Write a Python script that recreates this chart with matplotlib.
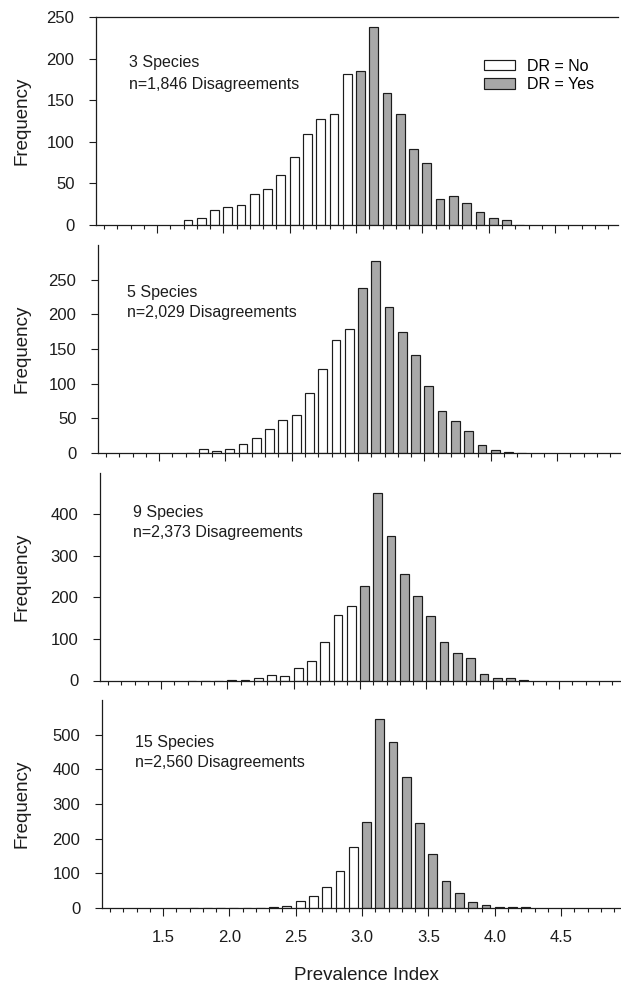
import matplotlib
matplotlib.use("Agg")
import matplotlib.pyplot as plt
from matplotlib.patches import Patch
from matplotlib.ticker import MultipleLocator, FormatStrFormatter

plt.rcParams['font.family'] = ['Liberation Sans', 'DejaVu Sans']

# bin start of each 0.1 wide prevalence-index class
bin_starts = [1.7, 1.8, 1.9, 2.0, 2.1, 2.2, 2.3, 2.4, 2.5, 2.6, 2.7, 2.8, 2.9,
              3.0, 3.1, 3.2, 3.3, 3.4, 3.5, 3.6, 3.7, 3.8, 3.9, 4.0, 4.1, 4.2]

freq_3sp = [6, 8, 18, 22, 24, 37, 43, 60, 82, 109, 128, 134, 181,
            185, 238, 159, 133, 91, 75, 31, 35, 26, 16, 9, 6, 0]
freq_5sp = [0, 6, 3, 6, 13, 22, 35, 47, 55, 87, 121, 163, 179,
            238, 277, 211, 175, 142, 96, 60, 46, 32, 12, 5, 2, 0]
freq_9sp = [0, 0, 0, 1, 2, 5, 14, 10, 30, 46, 92, 158, 179,
            228, 450, 347, 256, 203, 154, 92, 67, 53, 15, 6, 6, 2]
freq_15sp = [0, 0, 0, 0, 1, 1, 3, 5, 21, 36, 61, 106, 175,
             247, 545, 479, 377, 245, 156, 78, 42, 16, 9, 4, 2, 2]

labels = ['3 Species', '5 Species', '9 Species', '15 Species']
n_text = ['n=1,846 Disagreements', 'n=2,029 Disagreements',
          'n=2,373 Disagreements', 'n=2,560 Disagreements']
freqs = [freq_3sp, freq_5sp, freq_9sp, freq_15sp]
y_tops = [250, 300, 500, 600]
y_steps = [50, 50, 100, 100]
y_maxtick = [250, 250, 400, 500]
dr_cut = 3.0

W, H = 621, 984
fig = plt.figure(figsize=(W / 100, H / 100), dpi=100)

# panel geometry in pixels (left edge, bottom edge measured from top)
lefts = [96, 98, 100, 102]
bottoms = [225, 453, 680.5, 908]
ph = 208
xmin, xmax = 1.04, 4.97
px_per_unit = 132.7
pw = (xmax - xmin) * px_per_unit
txt_pos = [(129, 63, 85), (127, 292, 312), (133, 512, 532), (135, 743, 763)]

ink = '#1c1c1c'
grey = '#a8a8a8'

for i in range(4):
    ax = fig.add_axes([lefts[i] / W, (H - bottoms[i]) / H, pw / W, ph / H])
    cols = ['white' if b < dr_cut else grey for b in bin_starts]
    ax.bar(bin_starts, freqs[i], width=0.066, align='edge', color=cols,
           edgecolor=ink, linewidth=0.85, zorder=2)
    ax.set_xlim(xmin, xmax)
    ax.set_ylim(0, y_tops[i])
    ax.set_yticks(range(0, y_maxtick[i] + 1, y_steps[i]))
    ax.xaxis.set_major_locator(MultipleLocator(0.5))
    ax.xaxis.set_minor_locator(MultipleLocator(0.1))
    ax.spines['right'].set_visible(False)
    if i > 0:
        ax.spines['top'].set_visible(False)
    for s in ax.spines.values():
        s.set_color(ink)
        s.set_linewidth(0.9)
    ax.tick_params(axis='x', which='major', direction='out', length=5.5,
                   width=0.8, color=ink, labelsize=12, pad=10, labelcolor=ink)
    ax.tick_params(axis='x', which='minor', direction='out', length=3,
                   width=0.8, color=ink)
    ax.tick_params(axis='y', direction='out', length=5, width=0.8, color=ink,
                   labelsize=12, pad=10.5, labelcolor=ink)
    if i < 3:
        ax.tick_params(axis='x', which='both', labelbottom=False)
    else:
        ax.xaxis.set_major_formatter(FormatStrFormatter('%.1f'))

    tx, ty1, ty2 = txt_pos[i]
    fig.text(tx / W, 1 - ty1 / H, labels[i], fontsize=11.5, color=ink,
             ha='left', va='center')
    fig.text(tx / W, 1 - ty2 / H, n_text[i], fontsize=11.5, color=ink,
             ha='left', va='center')

    fig.text(22 / W, 1 - (bottoms[i] - ph / 2) / H, 'Frequency', rotation=90,
             fontsize=13.5, color=ink, ha='center', va='center')

    if i == 0:
        handles = [Patch(facecolor='white', edgecolor=ink, linewidth=0.85),
                   Patch(facecolor=grey, edgecolor=ink, linewidth=0.85)]
        ax.legend(handles, ['DR = No', 'DR = Yes'], loc='upper left',
                  bbox_to_anchor=(484 / W, 1 - 59 / H),
                  bbox_transform=fig.transFigure, frameon=False,
                  fontsize=11.5, borderpad=0, borderaxespad=0,
                  handlelength=1.95, handleheight=0.6, handletextpad=0.75,
                  labelspacing=0.2)

fig.text(366 / W, 1 - 975 / H, 'Prevalence Index', fontsize=13.5, color=ink,
         ha='center', va='center')

fig.savefig('out.png', dpi=100, facecolor='white')
